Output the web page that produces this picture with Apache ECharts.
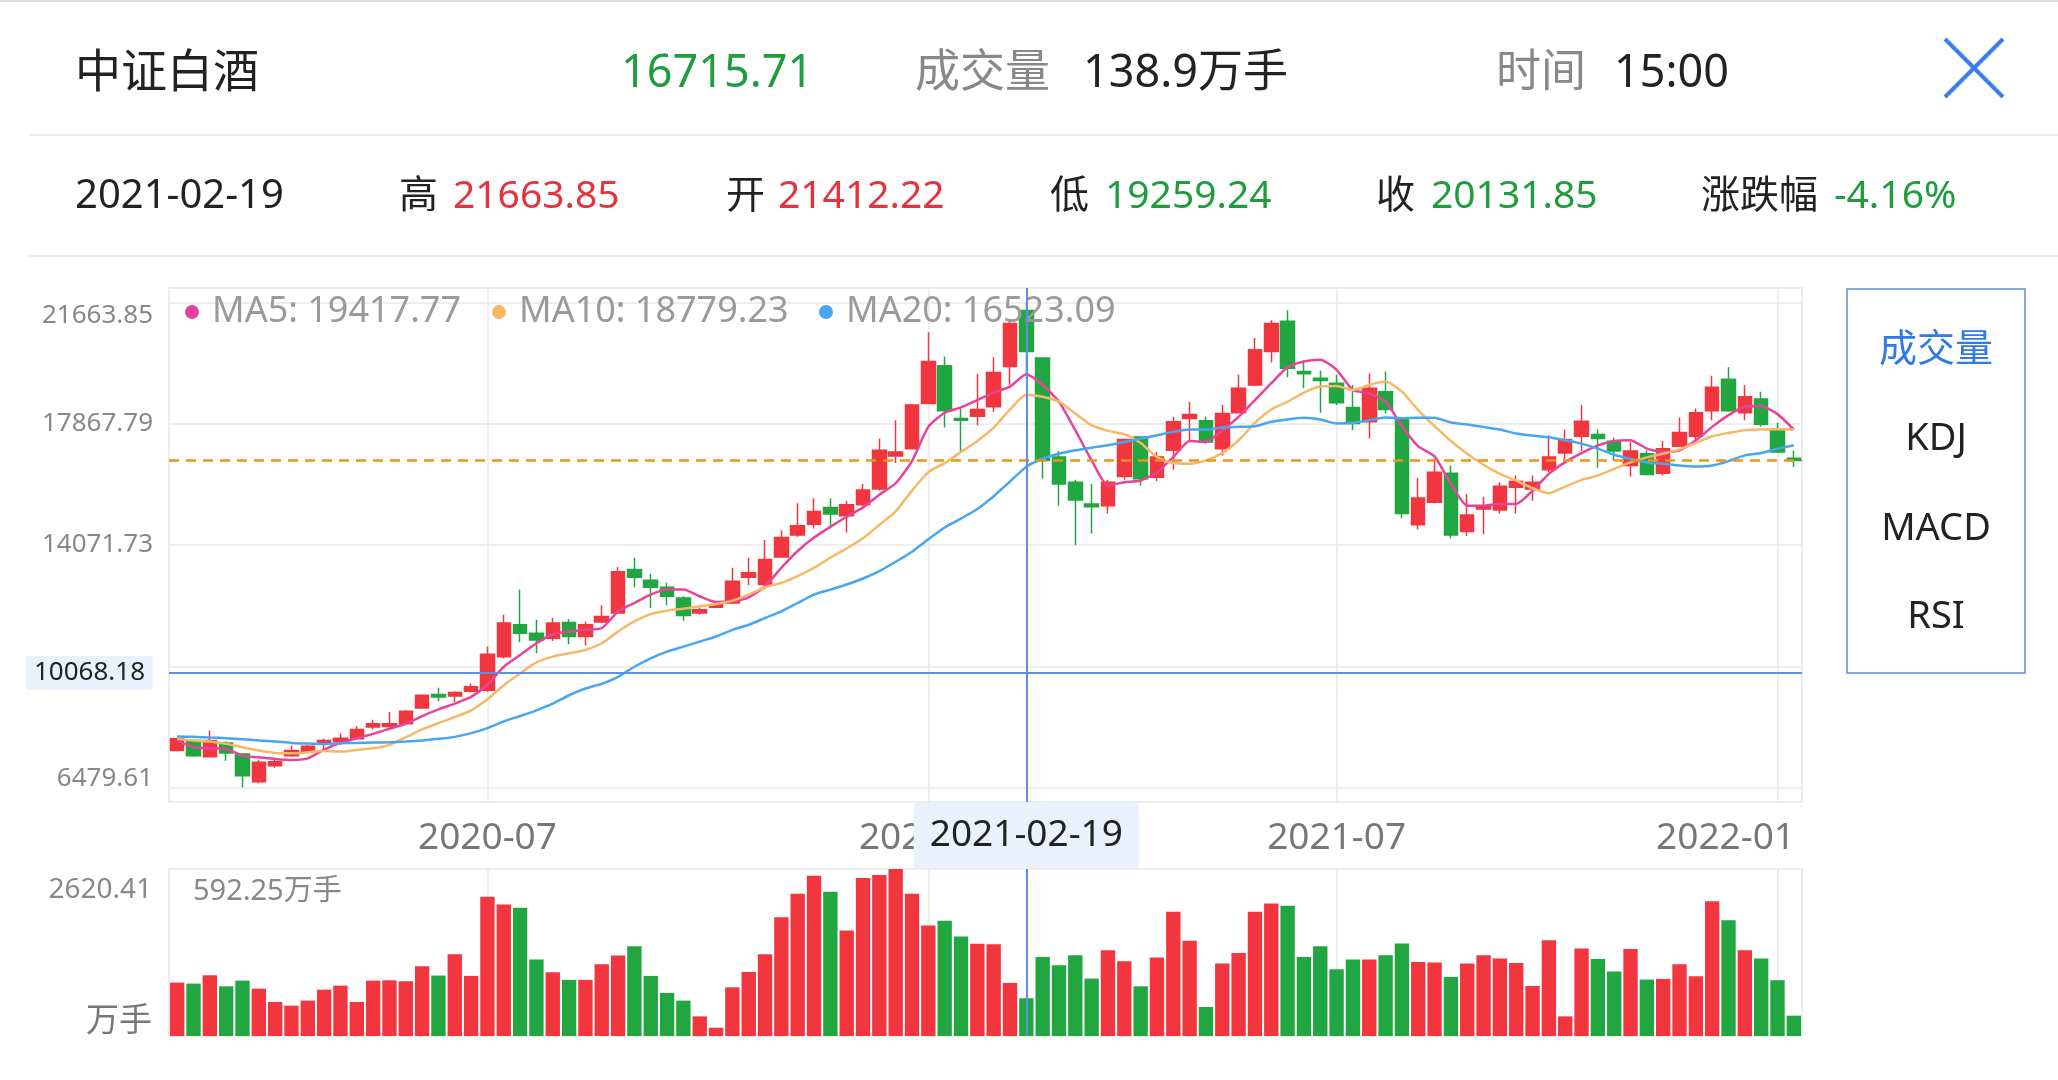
<!DOCTYPE html>
<html>
<head>
<meta charset="utf-8">
<title>中证白酒</title>
<script src="https://cdn.jsdelivr.net/npm/echarts@6.0.0/dist/echarts.min.js"></script>
<style>
html,body{margin:0;padding:0;background:#fff;}
#main{width:2058px;height:1080px;}
</style>
</head>
<body>
<div id="main"></div>
<script>
// weekly bars, 2020-02 .. 2022-01
var dates = ['2020-02-21','2020-02-28','2020-03-06','2020-03-13','2020-03-20','2020-03-27','2020-04-03','2020-04-10','2020-04-17','2020-04-24',
    '2020-04-30','2020-05-08','2020-05-15','2020-05-22','2020-05-29','2020-06-05','2020-06-12','2020-06-19','2020-06-24','2020-07-03',
    '2020-07-10','2020-07-17','2020-07-24','2020-07-31','2020-08-07','2020-08-14','2020-08-21','2020-08-28','2020-09-04','2020-09-11',
    '2020-09-18','2020-09-25','2020-09-30','2020-10-09','2020-10-16','2020-10-23','2020-10-30','2020-11-06','2020-11-13','2020-11-20',
    '2020-11-27','2020-12-04','2020-12-11','2020-12-18','2020-12-25','2020-12-31','2021-01-08','2021-01-15','2021-01-22','2021-01-29',
    '2021-02-05','2021-02-10','2021-02-19','2021-02-26','2021-03-05','2021-03-12','2021-03-19','2021-03-26','2021-04-02','2021-04-09',
    '2021-04-16','2021-04-23','2021-04-30','2021-05-07','2021-05-14','2021-05-21','2021-05-28','2021-06-04','2021-06-11','2021-06-18',
    '2021-06-25','2021-07-02','2021-07-09','2021-07-16','2021-07-23','2021-07-30','2021-08-06','2021-08-13','2021-08-20','2021-08-27',
    '2021-09-03','2021-09-10','2021-09-17','2021-09-24','2021-09-30','2021-10-08','2021-10-15','2021-10-22','2021-10-29','2021-11-05',
    '2021-11-12','2021-11-19','2021-11-26','2021-12-03','2021-12-10','2021-12-17','2021-12-24','2021-12-31','2022-01-07','2022-01-14'];

var openPrice = [7635,7950,7446,7876,7530,6658,7162,7477,7603,7876,
    7918,8003,8370,8391,8475,8969,9389,9347,9494,9526,
    10576,11573,11311,11153,11647,11206,11658,11941,13307,12970,
    12750,12413,11941,12120,12256,13065,12834,13695,14388,14724,
    15249,14987,15333,15827,16856,17088,18505,19682,18033,18106,
    18400,19661,21412.22,19923,16825,16037,15354,15302,16216,17455,
    16195,17035,18033,17959,17088,18211,19083,20133,21079,19503,
    19293,19135,18379,17928,18873,18001,14703,15407,16321,14493,
    15197,15166,15880,15827,16426,16951,17476,17529,17319,16562,
    16930,16321,17161,17476,18274,19262,18211,18642,17686,16790];

var closePrice = [8003,7477,7950,7561,6847,7268,7288,7635,7771,7950,
    8023,8297,8475,8475,8864,9368,9315,9452,9630,10649,
    11626,11311,11101,11626,11206,11574,11836,13233,13065,12750,
    12466,11867,12046,12204,12939,13201,13621,14304,14672,15123,
    15039,15333,15796,17035,16982,18453,19818,18274,17980,18316,
    19472,21005,20131.85,16720,15985,15481,15270,16037,17371,16142,
    16825,17928,18159,17298,18190,18978,20186,21005,19608,19430,
    19220,18526,17875,18978,18316,15061,15543,16352,14388,15008,
    15302,15911,16058,16037,16825,17371,17949,17403,17014,17014,
    16279,17088,17592,18211,19010,18274,18715,17854,16983,16715.71];

var lowPrice = [7603,7446,7425,7320,6479.61,6605,7099,7446,7582,7635,
    7813,7982,8297,8360,8444,8948,9179,9158,9452,9473,
    10523,11027,10681,11069,10964,10922,11626,11909,12750,12098,
    12183,11699,11888,12098,12225,12813,12676,13674,14325,14588,
    14619,14462,15302,15775,16636,17066,18484,17749,16951,17823,
    18243,19083,19259.24,16142,15302,14073,14430,15061,16111,15932,
    16069,16426,17329,17245,16877,18190,19052,19787,19325,18978,
    18211,18453,17665,17403,18190,14913,14567,15375,14283,14357,
    14409,15061,15061,15459,16352,16741,17014,16489,16720,16216,
    16247,16247,17140,17350,17980,18243,17980,17770,16951,16510];

var highPrice = [8023,7982,8265,7918,7561,7351,7351,7793,7814,8003,
    8181,8402,8601,8843,8896,9389,9599,9494,9735,10891,
    11888,12676,11731,11783,11752,11678,12183,13380,13674,13170,
    12886,12466,12120,12256,13359,13674,14231,14535,15375,15533,
    15533,15460,15985,17403,17980,18484,20732,19976,18348,19430,
    19955,21131,21663.85,19944,17014,16111,15985,16111,17403,17476,
    16983,18085,18558,18085,18453,19398,20553,21110,21425,19850,
    19535,19398,19083,19451,19503,18033,16174,16772,16562,15670,
    15585,16037,16247,16247,17508,17686,18453,17686,17434,17298,
    17035,17329,18064,18348,19367,19640,19083,18873,17896,17030];

// 成交量, 万手
var volume = [838,822,953,780,869,743,534,476,555,727,
    790,534,869,874,859,1095,948,1283,943,2185,
    2064,2011,1199,1000,880,880,1126,1262,1409,943,
    675,555,308,130,764,1006,1283,1865,2232,2515,
    2263,1655,2478,2525,2620.41,2232,1734,1807,1561,1446,
    1441,833,592.25,1241,1110,1267,901,1347,1174,780,
    1230,1948,1493,455,1136,1304,1948,2079,2043,1241,
    1409,1047,1199,1199,1267,1451,1163,1152,927,1136,
    1267,1215,1147,785,1504,308,1372,1210,1011,1367,
    885,896,1126,937,2116,1817,1347,1215,875,319];

var ma5 = [7950,7739,7708,7687,7477,7425,7372,7341,7393,7666,
    7876,8023,8160,8317,8475,8716,8926,9105,9315,9703,
    10260,10628,10995,11279,11363,11416,11468,11993,12256,12518,
    12676,12676,12466,12287,12308,12434,12781,13359,13884,14304,
    14640,14955,15249,15648,16005,16699,17770,18211,18379,18610,
    18841,19030,19417.77,19083,18558,17665,16720,15932,16037,16090,
    16352,16825,17329,17298,17665,18085,18610,19136,19640,19818,
    19871,19556,18926,18821,18558,17791,17161,16846,15985,15302,
    15302,15355,15355,15775,16300,16667,16951,17193,17329,17350,
    17088,16983,17035,17350,17770,18137,18400,18421,18169,17686];

var ma10 = [8003,7950,7918,7845,7739,7635,7561,7551,7582,7624,
    7603,7656,7708,7813,8055,8297,8496,8685,8895,9242,
    9683,10051,10397,10576,10681,10786,10996,11363,11679,11909,
    12015,12078,12151,12225,12330,12519,12750,12886,13096,13359,
    13674,13968,14283,14703,15124,15775,16352,16636,16983,17329,
    17746,18316,18779.23,18716,18558,18190,17823,17644,17539,17266,
    16825,16636,16615,16720,16951,17350,17896,18316,18558,18842,
    19031,19052,18926,19083,19188,18873,18295,17791,17329,16930,
    16583,16300,16090,15848,15691,15901,16111,16247,16457,16657,
    16815,16930,17067,17266,17476,17581,17665,17686,17697,17686];

var ma20 = [8076,8065,8044,8024,7992,7950,7918,7876,7855,7845,
    7866,7876,7887,7897,7918,7950,8003,8065,8181,8339,
    8549,8717,8895,9105,9368,9578,9725,9946,10261,10523,
    10733,10891,11048,11206,11416,11574,11784,11994,12256,12519,
    12676,12834,13023,13254,13548,13863,14252,14620,14900,15200,
    15600,16060,16523.09,16773,16930,17035,17119,17193,17298,17403,
    17508,17613,17686,17686,17749,17770,17791,17928,18001,18054,
    18001,17875,17896,17980,18064,18043,18054,18054,17907,17844,
    17770,17686,17560,17497,17445,17350,17245,17088,16899,16762,
    16657,16615,16562,16531,16562,16699,16878,16951,17088,17193];

var monthTicks = ['2020-07-03','2021-01-08','2021-07-02','2022-01-07'];
var priceMin = 6479.61, priceMax = 21663.85, priceStep = 3796.06;
var volMax = 2620.41;
var pickIndex = 52;
var pickPrice = 10068.18;
var lastPrice = 16715.71;

var RED = '#f1363f', GREEN = '#21a641';
var FONT = '"Noto Sans", "Noto Sans CJK SC", sans-serif';
var GRID_LINE = '#e8e8e8';
var CROSS = '#5d8fe3';

var candleData = dates.map(function (d, i) {
    return [openPrice[i], closePrice[i], lowPrice[i], highPrice[i]];
});
var volData = volume.map(function (v, i) {
    return {value: v, itemStyle: {color: closePrice[i] >= openPrice[i] ? RED : GREEN}};
});
var legendText = {
    MA5: 'MA5: ' + ma5[pickIndex].toFixed(2),
    MA10: 'MA10: ' + ma10[pickIndex].toFixed(2),
    MA20: 'MA20: ' + ma20[pickIndex].toFixed(2)
};
function isMonthTick(idx, val) {
    return monthTicks.indexOf(val) >= 0;
}
function txt(text, x, y, size, color, align) {
    return {
        type: 'text', x: x, y: y, silent: true,
        style: {text: text, fill: color, fontSize: size, fontFamily: FONT,
            textAlign: align || 'left', textVerticalAlign: 'middle',
            align: align || 'left', verticalAlign: 'middle'}
    };
}
function legendOf(name, left) {
    return {
        data: [name], left: left, top: 294, padding: 0,
        icon: 'circle', itemWidth: 30, itemHeight: 14,
        selectedMode: false,
        formatter: function (n) { return legendText[n]; },
        textStyle: {color: '#9a9a9a', fontSize: 36, fontFamily: FONT}
    };
}

var chart = echarts.init(document.getElementById('main'));
var option = {
    backgroundColor: '#fff',
    animation: false,
    textStyle: {fontFamily: FONT},
    legend: [legendOf('MA5', 185), legendOf('MA10', 492), legendOf('MA20', 819)],
    grid: [
        {left: 169, top: 288, width: 1633, height: 514, show: true, borderColor: GRID_LINE, borderWidth: 1.5},
        {left: 169, top: 302.5, width: 1633, height: 485},
        {left: 169, top: 869, width: 1633, height: 167, show: true, borderColor: GRID_LINE, borderWidth: 1.5}
    ],
    xAxis: [
        {
            gridIndex: 0, type: 'category', data: dates, boundaryGap: true,
            axisLine: {show: false}, axisTick: {show: false, alignWithLabel: true},
            axisLabel: {interval: isMonthTick, color: '#777', fontSize: 37, margin: 18,
                formatter: function (v) {
                    // last month label is pushed left to stay inside the plot
                    if (v === monthTicks[monthTicks.length - 1]) return '{r|' + v.slice(0, 7) + '}';
                    return v.slice(0, 7);
                },
                rich: {r: {color: '#777', fontSize: 37, fontFamily: FONT, padding: [0, 104, 0, 0]}}},
            splitLine: {show: true, interval: isMonthTick, alignWithLabel: true,
                lineStyle: {color: GRID_LINE, width: 1.5}},
            axisPointer: {
                show: true, type: 'line', value: pickIndex, status: 'show', snap: false, triggerTooltip: false,
                lineStyle: {color: CROSS, width: 2, type: 'solid'},
                label: {show: true, formatter: function () { return dates[pickIndex]; },
                    backgroundColor: '#eaf1fd', color: '#222', fontSize: 37, fontFamily: FONT,
                    padding: [14, 16, 14, 16], margin: 1, shadowBlur: 0, borderWidth: 0}
            }
        },
        {gridIndex: 1, type: 'category', data: dates, boundaryGap: true, show: false},
        {
            gridIndex: 2, type: 'category', data: dates, boundaryGap: true,
            axisLine: {show: false}, axisTick: {show: false}, axisLabel: {show: false},
            splitLine: {show: true, interval: isMonthTick, alignWithLabel: true,
                lineStyle: {color: GRID_LINE, width: 1.5}},
            axisPointer: {
                show: true, type: 'line', value: pickIndex, status: 'show', snap: false, triggerTooltip: false,
                lineStyle: {color: CROSS, width: 2, type: 'solid'}, label: {show: false}
            }
        }
    ],
    yAxis: [
        {gridIndex: 0, type: 'value', show: false},
        {
            gridIndex: 1, type: 'value', min: priceMin, max: priceMax, interval: priceStep,
            axisLine: {show: false}, axisTick: {show: false},
            splitLine: {show: true, lineStyle: {color: GRID_LINE, width: 1.5}},
            axisLabel: {
                color: '#888', fontSize: 26, margin: 16,
                formatter: function (v) {
                    if (Math.abs(v - priceMax) < 0.01) return '{t|' + v.toFixed(2) + '}';
                    if (Math.abs(v - priceMin) < 0.01) return '{b|' + v.toFixed(2) + '}';
                    if (Math.abs(v - (priceMin + priceStep)) < 0.01) return '';
                    return v.toFixed(2);
                },
                rich: {
                    t: {color: '#888', fontSize: 26, fontFamily: FONT, padding: [26, 0, 0, 0]},
                    b: {color: '#888', fontSize: 26, fontFamily: FONT, padding: [0, 0, 18, 0]}
                }
            },
            axisPointer: {
                show: true, type: 'line', value: pickPrice, status: 'show', snap: false, triggerTooltip: false,
                lineStyle: {color: CROSS, width: 2, type: 'solid'},
                label: {show: true, formatter: function () { return pickPrice.toFixed(2); },
                    backgroundColor: '#eaf1fd', color: '#222', fontSize: 26, fontFamily: FONT,
                    padding: [4, 8, 4, 8], margin: 16, shadowBlur: 0, borderWidth: 0}
            }
        },
        {
            gridIndex: 2, type: 'value', min: 0, max: volMax, interval: volMax,
            axisLine: {show: false}, axisTick: {show: false}, splitLine: {show: false},
            axisLabel: {
                margin: 17,
                formatter: function (v) {
                    return v === 0 ? '{b|万手}' : '{t|' + v.toFixed(2) + '}';
                },
                rich: {
                    t: {color: '#888', fontSize: 28, fontFamily: FONT, padding: [42, 0, 0, 0]},
                    b: {color: '#777', fontSize: 33, fontFamily: FONT, padding: [0, 0, 28, 0]}
                }
            }
        }
    ],
    series: [
        {
            name: 'K', type: 'candlestick', xAxisIndex: 1, yAxisIndex: 1,
            data: candleData, barWidth: 14,
            itemStyle: {color: RED, color0: GREEN, borderColor: RED, borderColor0: GREEN, borderWidth: 1.5},
            markLine: {
                symbol: 'none', silent: true, label: {show: false},
                lineStyle: {color: '#f0921e', type: [10, 7], width: 2.5},
                data: [{yAxis: lastPrice}]
            }
        },
        {name: 'MA5', type: 'line', xAxisIndex: 1, yAxisIndex: 1, data: ma5, smooth: 0.2,
            showSymbol: false, color: '#e8439a', lineStyle: {width: 2.5}},
        {name: 'MA10', type: 'line', xAxisIndex: 1, yAxisIndex: 1, data: ma10, smooth: 0.2,
            showSymbol: false, color: '#f7b866', lineStyle: {width: 2.5}},
        {name: 'MA20', type: 'line', xAxisIndex: 1, yAxisIndex: 1, data: ma20, smooth: 0.2,
            showSymbol: false, color: '#47a5f2', lineStyle: {width: 2.5}},
        {name: '成交量', type: 'bar', xAxisIndex: 2, yAxisIndex: 2, data: volData, barCategoryGap: '12%'}
    ],
    graphic: [
        {type: 'line', silent: true, shape: {x1: 0, y1: 1, x2: 2058, y2: 1}, style: {stroke: '#dddddd', lineWidth: 2}},
        {type: 'line', silent: true, shape: {x1: 29, y1: 135, x2: 2058, y2: 135}, style: {stroke: '#ececec', lineWidth: 2}},
        {type: 'line', silent: true, shape: {x1: 29, y1: 256, x2: 2058, y2: 256}, style: {stroke: '#ececec', lineWidth: 2}},
        txt('中证白酒', 75, 74, 46, '#222'),
        txt('16715.71', 621, 74, 45, '#1f9d3d'),
        txt('成交量', 915, 74, 45, '#888'),
        txt('138.9万手', 1083, 74, 45, '#222'),
        txt('时间', 1496, 74, 45, '#888'),
        txt('15:00', 1614, 74, 45, '#222'),
        {type: 'line', silent: true, shape: {x1: 1945, y1: 39, x2: 2003, y2: 97}, style: {stroke: '#3b7ded', lineWidth: 4}},
        {type: 'line', silent: true, shape: {x1: 2003, y1: 39, x2: 1945, y2: 97}, style: {stroke: '#3b7ded', lineWidth: 4}},
        txt('2021-02-19', 75, 197, 40, '#222'),
        txt('高', 399, 197, 39, '#222'),
        txt('21663.85', 453, 197, 39, '#e5323c'),
        txt('开', 726, 197, 39, '#222'),
        txt('21412.22', 778, 197, 39, '#e5323c'),
        txt('低', 1050, 197, 39, '#222'),
        txt('19259.24', 1105, 197, 39, '#1f9d3d'),
        txt('收', 1376, 197, 39, '#222'),
        txt('20131.85', 1431, 197, 39, '#1f9d3d'),
        txt('涨跌幅', 1701, 197, 39, '#222'),
        txt('-4.16%', 1834, 197, 39, '#1f9d3d'),
        {type: 'rect', silent: true, shape: {x: 1847, y: 289, width: 178, height: 384},
            style: {fill: '#fff', stroke: '#5b8fd0', lineWidth: 1.5}},
        txt('成交量', 1936, 350, 38, '#2f7ae5', 'center'),
        txt('KDJ', 1936, 439, 38, '#222', 'center'),
        txt('MACD', 1936, 529, 38, '#222', 'center'),
        txt('RSI', 1936, 617, 38, '#222', 'center'),
        txt(volume[pickIndex].toFixed(2) + '万手', 193, 892, 29, '#888')
    ]
};
chart.setOption(option);
</script>
</body>
</html>
